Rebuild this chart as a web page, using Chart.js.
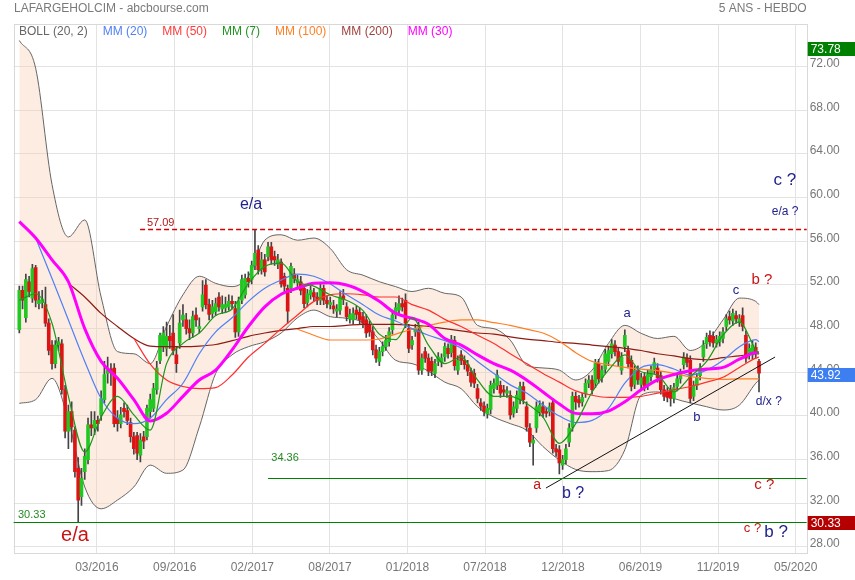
<!DOCTYPE html>
<html>
<head>
<meta charset="utf-8">
<script src="https://cdn.jsdelivr.net/npm/chart.js@4.4.1/dist/chart.umd.min.js"></script>
<style>
  html, body { margin: 0; padding: 0; background: #fff; }
  canvas { display: block; }
</style>
</head>
<body>
<canvas id="graphique" width="855" height="580"></canvas>
<script>
// bougies hebdo (ouverture, plus haut, plus bas, cloture)
const ouv = [
  47.9, 51.5, 49.0, 52.3, 50.8, 53.6, 50.3, 50.4, 50.2, 48.5,
  46.5, 44.8, 46.5, 46.6, 42.4, 38.6, 40.4, 38.7, 35.2, 32.6,
  34.9, 36.0, 39.2, 38.9, 39.6, 40.1, 41.5, 43.9, 44.3, 44.4,
  39.8, 39.3, 40.7, 40.5, 39.4, 38.1, 38.2, 36.4, 38.1, 38.1,
  40.4, 40.7, 42.4, 45.1, 46.35, 46.2, 47.3, 47.6, 45.6, 46.7,
  48.8, 48.8, 48.0, 47.6, 49.25, 48.0, 50.0, 52.0, 50.2, 49.4,
  49.55, 50.9, 49.8, 49.9, 50.0, 50.5, 49.85, 47.7, 50.6, 51.1,
  52.6, 52.5, 53.8, 55.2, 53.4, 54.3, 54.6, 55.5, 54.6, 53.9,
  54.1, 52.8, 51.7, 51.7, 53.0, 52.2, 52.3, 51.7, 50.4, 51.1,
  51.3, 50.9, 50.6, 51.7, 50.6, 50.2, 50.1, 49.6, 49.7, 51.0,
  50.0, 48.9, 48.8, 49.7, 49.5, 49.1, 48.8, 48.3, 47.7, 46.05,
  45.0, 45.9, 46.35, 46.8, 47.9, 49.25, 49.7, 50.3, 50.6, 48.0,
  46.5, 47.7, 47.9, 44.2, 45.9, 45.3, 45.0, 43.9, 45.0, 44.9,
  45.4, 46.2, 45.8, 46.9, 44.2, 45.6, 45.1, 44.7, 44.0, 43.9,
  42.5, 41.2, 40.9, 40.2, 40.6, 42.5, 42.8, 42.8, 42.4, 42.1,
  41.9, 40.25, 40.7, 41.5, 42.7, 40.85, 38.9, 37.5, 38.9, 40.4,
  40.85, 40.4, 40.4, 41.2, 37.0, 36.9, 35.5, 36.0, 37.6, 39.0,
  41.8, 41.5, 41.3, 42.1, 43.0, 43.3, 43.0, 44.8, 43.5, 44.3,
  45.0, 45.7, 46.5, 45.9, 44.2, 46.35, 46.0, 45.1, 42.9, 44.2,
  42.9, 43.6, 42.8, 43.6, 44.3, 44.4, 43.7, 42.4, 42.2, 42.4,
  41.6, 42.7, 43.4, 44.7, 45.3, 45.1, 41.8, 42.8, 43.7, 45.4,
  46.6, 47.4, 47.3, 46.7, 46.8, 47.1, 48.2, 49.1, 48.7, 49.2,
  48.6, 49.2, 47.4, 45.6, 45.6, 46.3, 45.0
];
const haut = [
  51.9, 51.9, 53.0, 52.8, 53.9, 53.8, 51.4, 51.5, 51.8, 48.9,
  46.9, 46.9, 47.2, 47.0, 42.8, 41.0, 41.3, 39.0, 36.2, 35.2,
  37.0, 39.8, 40.4, 40.4, 40.0, 42.3, 45.0, 45.4, 44.8, 44.8,
  40.5, 40.8, 41.2, 41.0, 39.8, 38.5, 38.5, 38.4, 38.6, 41.0,
  42.0, 43.0, 45.0, 47.6, 48.2, 48.6, 48.3, 49.3, 46.3, 49.7,
  50.2, 49.4, 48.8, 49.6, 49.9, 49.0, 52.4, 52.5, 50.7, 50.6,
  50.8, 51.3, 51.0, 50.9, 51.1, 51.0, 50.5, 50.9, 52.9, 53.0,
  53.2, 54.2, 57.09, 55.6, 55.0, 54.8, 55.9, 55.9, 55.1, 54.8,
  54.4, 53.1, 52.0, 54.0, 53.5, 52.9, 52.8, 52.0, 51.6, 51.9,
  51.7, 51.3, 52.1, 52.0, 51.0, 50.9, 50.6, 50.2, 51.4, 51.6,
  50.4, 49.8, 49.9, 50.1, 49.9, 49.5, 49.3, 48.7, 48.2, 46.5,
  46.3, 46.8, 47.4, 48.1, 49.7, 50.4, 51.0, 50.8, 51.2, 48.4,
  47.3, 48.4, 48.6, 45.7, 46.3, 45.7, 45.4, 45.2, 45.8, 45.7,
  46.7, 46.6, 47.4, 47.3, 45.5, 46.0, 45.5, 45.1, 44.4, 44.3,
  42.9, 41.6, 41.3, 41.1, 43.2, 43.4, 44.2, 43.2, 42.8, 42.7,
  42.3, 41.3, 42.3, 43.1, 43.1, 41.3, 39.3, 38.2, 41.3, 41.4,
  41.3, 40.8, 41.2, 41.6, 37.4, 37.3, 36.4, 37.4, 39.3, 42.2,
  42.2, 41.9, 42.1, 43.4, 43.7, 43.7, 45.2, 45.2, 44.6, 46.1,
  46.4, 47.0, 46.9, 46.3, 45.8, 47.9, 46.4, 45.5, 44.6, 44.6,
  43.9, 44.0, 44.2, 44.6, 45.3, 44.8, 44.1, 42.8, 42.6, 42.8,
  43.0, 43.8, 44.3, 45.8, 45.7, 45.5, 43.2, 43.9, 44.8, 46.9,
  47.6, 47.8, 47.7, 47.4, 47.7, 48.1, 49.3, 49.6, 49.8, 49.6,
  49.3, 49.9, 47.8, 46.6, 46.9, 46.7, 45.2
];
const bas = [
  47.6, 49.8, 48.6, 50.9, 50.4, 50.0, 49.8, 49.9, 48.2, 45.6,
  44.3, 44.4, 46.0, 42.0, 38.0, 37.0, 37.6, 34.4, 30.33, 31.8,
  34.2, 35.6, 38.2, 38.3, 38.6, 39.6, 41.2, 43.0, 42.8, 39.0,
  38.6, 38.9, 39.9, 39.2, 37.6, 36.5, 36.0, 35.8, 37.0, 37.8,
  39.8, 40.4, 42.0, 44.8, 45.9, 45.5, 46.2, 45.6, 44.0, 46.2,
  48.2, 47.5, 47.0, 47.2, 48.2, 47.6, 49.6, 49.8, 48.8, 49.0,
  49.2, 49.6, 49.4, 49.5, 49.7, 49.8, 47.2, 47.3, 50.3, 50.8,
  51.8, 52.1, 53.4, 53.0, 53.0, 52.8, 54.2, 53.9, 53.8, 53.5,
  51.8, 51.4, 48.5, 51.3, 52.2, 51.8, 51.1, 49.9, 50.0, 50.7,
  50.5, 50.2, 50.2, 50.2, 49.9, 49.8, 49.4, 49.1, 49.3, 50.2,
  48.7, 48.5, 48.4, 48.9, 48.4, 48.1, 47.2, 47.3, 45.6, 44.9,
  44.6, 45.5, 46.0, 46.4, 47.5, 48.9, 49.3, 49.6, 48.1, 45.8,
  46.1, 47.3, 43.8, 43.8, 44.9, 43.7, 43.7, 43.5, 44.6, 44.5,
  45.0, 45.3, 45.4, 44.2, 43.8, 44.7, 44.3, 43.7, 42.7, 42.6,
  41.2, 40.5, 40.0, 39.8, 40.2, 42.1, 42.4, 41.7, 41.8, 41.7,
  39.7, 39.9, 40.3, 41.1, 41.1, 38.6, 37.2, 35.5, 38.5, 40.0,
  39.9, 39.9, 40.0, 36.6, 36.3, 34.7, 35.1, 35.6, 37.2, 38.6,
  40.6, 40.8, 40.9, 41.7, 42.6, 42.0, 42.6, 43.0, 43.1, 43.9,
  44.6, 45.3, 45.5, 44.6, 43.8, 45.9, 44.4, 42.3, 42.5, 42.9,
  42.5, 42.3, 42.4, 43.2, 43.9, 43.1, 42.0, 41.4, 41.3, 40.9,
  41.2, 42.3, 43.0, 44.3, 44.5, 41.2, 41.4, 42.4, 43.3, 45.0,
  46.2, 46.4, 46.3, 46.3, 46.4, 46.7, 47.8, 48.4, 48.3, 48.5,
  48.2, 47.8, 44.9, 45.2, 45.2, 45.3, 42.2
];
const clot = [
  51.5, 50.6, 52.5, 51.4, 53.5, 50.6, 50.6, 50.7, 48.5, 46.0,
  44.8, 46.5, 46.8, 42.4, 38.6, 40.4, 39.0, 34.9, 32.3, 34.3,
  36.3, 39.2, 38.9, 39.6, 39.3, 41.6, 43.8, 44.2, 44.0, 39.3,
  39.3, 40.1, 40.4, 39.6, 38.1, 37.0, 36.6, 37.8, 37.7, 40.7,
  41.5, 42.5, 44.4, 47.4, 47.6, 47.3, 46.9, 46.0, 44.8, 48.5,
  49.25, 48.0, 47.6, 49.1, 48.8, 48.2, 51.1, 50.2, 49.3, 50.0,
  50.3, 50.0, 50.2, 50.2, 50.5, 50.3, 47.7, 50.5, 52.5, 52.6,
  52.3, 53.8, 54.9, 53.4, 54.3, 53.2, 55.5, 54.3, 54.3, 54.3,
  52.1, 51.9, 49.6, 53.7, 52.6, 52.5, 51.5, 50.3, 51.2, 51.5,
  50.9, 50.6, 51.7, 50.6, 50.3, 50.4, 49.8, 49.8, 50.9, 50.7,
  49.1, 49.3, 49.4, 49.3, 48.8, 48.5, 47.6, 47.7, 46.05, 45.3,
  45.9, 46.35, 46.96, 47.7, 49.25, 49.9, 50.3, 50.0, 48.5, 46.2,
  46.9, 48.0, 44.2, 45.3, 45.3, 44.1, 44.1, 44.8, 45.4, 45.3,
  46.35, 45.7, 47.0, 44.6, 45.1, 45.1, 44.7, 44.1, 43.1, 43.0,
  41.6, 40.9, 40.4, 40.7, 42.8, 43.0, 43.75, 42.1, 42.2, 42.3,
  40.1, 40.85, 41.9, 42.7, 41.5, 39.0, 37.6, 37.8, 40.85, 41.0,
  40.25, 40.25, 40.85, 37.0, 36.7, 35.7, 36.0, 37.0, 38.9, 41.8,
  41.3, 41.2, 41.7, 43.0, 43.3, 42.4, 44.8, 43.4, 44.2, 45.7,
  46.0, 46.6, 45.9, 45.0, 45.4, 47.4, 44.8, 42.7, 44.2, 43.3,
  43.5, 42.7, 43.8, 44.2, 44.9, 43.5, 42.4, 41.8, 41.7, 41.6,
  42.6, 43.4, 43.9, 45.4, 44.9, 41.6, 42.8, 43.5, 44.4, 46.5,
  47.2, 46.8, 46.7, 47.0, 47.3, 47.7, 48.9, 48.8, 49.4, 48.9,
  48.9, 48.2, 45.3, 46.2, 46.5, 45.7, 43.92
];

// indicateurs, releves toutes les 5 semaines
const semaines = [
  0, 5, 10, 15, 20, 25, 30, 35, 40, 45, 50, 55, 60, 65, 70, 75,
  80, 85, 90, 95, 100, 105, 110, 115, 120, 125, 130, 135, 140, 145,
  150, 155, 160, 165, 170, 175, 180, 185, 190, 195, 200, 205, 210,
  215, 220, 225, 226
];
const bollHaut = [
  74.4, 71.85, 61.2, 56.4, 57.96, 50.9, 45.9, 45.7, 44.8, 48.2,
  51.1, 52.8, 52.15, 51.85, 52.8, 56.1, 56.6, 56.1, 56.3, 55.35,
  53.4, 52.9, 52.3, 51.85, 51.4, 51.7, 51.24, 50.9, 48.3, 48.0,
  46.95, 44.67, 44.4, 44.2, 43.3, 44.2, 46.65, 48.3, 47.57, 47.1,
  47.3, 46.0, 46.8, 48.8, 50.8, 50.5, 50.2
];
const bollBas = [
  41.16, 41.5, 43.45, 39.6, 33.5, 31.5, 32.3, 33.5, 35.5, 34.75,
  35.05, 39.0, 43.9, 45.6, 46.35, 46.8, 47.6, 49.0, 49.7, 49.1,
  48.95, 48.55, 46.96, 45.1, 44.8, 44.1, 43.1, 42.5, 40.85, 39.9,
  39.3, 38.7, 37.2, 35.97, 35.1, 34.9, 35.0, 36.9, 41.9, 42.2,
  41.6, 41.2, 40.85, 40.55, 41.0, 43.0, 43.3
];
const mm7 = [
  50.6, 51.2, 48.5, 41.8, 36.7, 39.9, 41.8, 40.1, 38.7, 44.8,
  46.65, 47.6, 49.2, 49.8, 52.15, 53.7, 54.0, 52.3, 51.9, 51.1,
  50.6, 49.65, 47.5, 47.0, 49.0, 46.5, 44.8, 45.4, 43.3, 41.8,
  41.8, 41.15, 39.9, 37.5, 39.3, 42.2, 44.2, 45.6, 44.05, 43.75,
  42.2, 43.6, 45.0, 47.4, 48.6, 46.05, 45.7
];
const mm20 = [
  null, 56.3, 52.6, 48.8, 45.0, 41.6, 39.8, 39.3, 39.8, 41.5,
  43.0, 45.7, 47.7, 49.0, 50.5, 51.7, 52.45, 53.0, 52.8, 52.1,
  51.1, 50.2, 49.25, 48.7, 48.0, 47.4, 46.9, 46.2, 45.0, 43.9,
  42.85, 42.1, 41.0, 40.0, 39.4, 39.6, 40.7, 43.0, 44.45, 44.7,
  44.3, 43.75, 44.2, 45.1, 46.35, 47.0, 46.8
];
const mm30 = [
  57.8, 56.3, 54.3, 52.3, 48.0, 45.0, 43.45, 41.5, 39.55, 40.25,
  41.8, 43.3, 44.2, 46.05, 48.2, 50.0, 51.15, 51.7, 52.15, 52.2,
  52.0, 51.4, 50.5, 49.4, 48.95, 48.4, 47.1, 46.5, 45.6, 44.8,
  44.2, 43.3, 42.2, 41.1, 40.24, 40.2, 40.45, 41.3, 42.4, 43.3,
  43.8, 44.15, 44.3, 44.45, 45.2, 45.8, 45.8
];
const mm50 = [
  null, null, null, null, null, null, null, 47.1, 44.75, 43.3,
  42.7, 42.5, 42.6, 43.75, 45.4, 46.65, 48.0, 49.25, 50.5, 51.1,
  51.2, 51.1, 50.9, 50.9, 50.2, 49.7, 48.85, 48.2, 47.4, 46.65,
  45.7, 44.8, 43.9, 43.1, 42.3, 41.9, 41.7, 41.7, 41.8, 42.1,
  42.4, 42.7, 43.1, 43.55, 44.45, 45.3, 45.4
];
const mm100 = [
  null, null, null, null, null, null, null, null, null, null,
  null, null, null, null, null, null, null, 47.95, 47.4, 46.96,
  46.96, 46.96, 47.05, 47.5, 47.95, 48.3, 48.6, 48.8, 48.8, 48.55,
  48.3, 47.95, 47.6, 46.85, 45.8, 45.0, 44.7, 44.45, 44.3, 44.15,
  43.9, 43.6, 43.45, 43.35, 43.4, 43.4, 43.4
];
const mm200 = [
  null, null, null, 52.15, 50.9, 49.4, 48.2, 47.1, 46.4, 46.35,
  46.35, 46.4, 46.55, 46.9, 47.3, 47.6, 47.85, 48.0, 48.2, 48.2,
  48.3, 48.4, 48.4, 48.4, 48.3, 48.2, 48.0, 47.8, 47.6, 47.5,
  47.25, 47.05, 46.9, 46.75, 46.65, 46.5, 46.35, 46.2, 46.0, 45.7,
  45.5, 45.25, 45.15, 45.35, 45.5, 45.7, 45.7
];

// axes
const moisLabels = ["03/2016", "09/2016", "02/2017", "08/2017", "01/2018", "07/2018", "12/2018", "06/2019", "11/2019", "05/2020"];
const moisPos = [23.7, 47.5, 71.2, 94.9, 118.6, 142.3, 166.1, 189.8, 213.5, 237.2];
const yTicks = [28, 32, 36, 40, 44, 48, 52, 56, 60, 64, 68, 72];

// niveaux traces et etiquettes de prix
const niveaux = [57.09, 34.36, 30.33];
const niveauxDebut = [36.9, 76.0, -1.74];
const prixEtiquettes = [73.78, 43.92, 30.33];
const tendance = [{ x: 160.9, y: 33.4 }, { x: 230.9, y: 45.4 }];

const xMin = -1.74, xMax = 240.57;
const police = '"Liberation Sans", Arial, sans-serif';
const marine = "#23238c";
const rouge = "#c81414";

const legende = [
  { t: "BOLL (20, 2)", c: "#666666" },
  { t: "MM (20)", c: "#4f80f5" },
  { t: "MM (50)", c: "#ff3c3c" },
  { t: "MM (7)", c: "#1e961e" },
  { t: "MM (100)", c: "#ff7f24" },
  { t: "MM (200)", c: "#a0403c" },
  { t: "MM (30)", c: "#ff00ff" }
];

const notes = [
  { t: "57.09", x: 39.0, y: 57.65, c: "#b01818", s: 11, a: "left" },
  { t: "34.36", x: 77.0, y: 36.2, c: "#228b22", s: 11, a: "left" },
  { t: "30.33", x: -0.4, y: 30.9, c: "#228b22", s: 11, a: "left" },
  { t: "e/a", x: 70.8, y: 59.35, c: marine, s: 16 },
  { t: "e/a", x: 17.0, y: 29.1, c: rouge, s: 20 },
  { t: "a", x: 158.2, y: 33.7, c: rouge, s: 14 },
  { t: "b ?", x: 169.2, y: 32.85, c: marine, s: 16 },
  { t: "a", x: 185.7, y: 49.4, c: marine, s: 13 },
  { t: "b", x: 207.0, y: 39.9, c: marine, s: 13 },
  { t: "c", x: 219.0, y: 51.5, c: marine, s: 13 },
  { t: "b ?", x: 226.9, y: 52.45, c: rouge, s: 15 },
  { t: "c ?", x: 233.9, y: 61.6, c: marine, s: 17 },
  { t: "e/a ?", x: 234.0, y: 58.7, c: marine, s: 12 },
  { t: "d/x ?", x: 229.0, y: 41.3, c: marine, s: 12 },
  { t: "c ?", x: 227.6, y: 33.7, c: rouge, s: 15 },
  { t: "c ?", x: 224.0, y: 29.7, c: rouge, s: 13 },
  { t: "b ?", x: 231.2, y: 29.3, c: marine, s: 17 }
];

const pts = vals => semaines.map((s, k) => ({ x: s, y: vals[k] })).filter(p => p.y !== null);

function ligneMM(label, vals, couleur, epaisseur, ordre) {
  return {
    type: "line",
    label: label,
    data: pts(vals),
    borderColor: couleur,
    borderWidth: epaisseur,
    pointRadius: 0,
    fill: false,
    cubicInterpolationMode: "monotone",
    order: ordre
  };
}

const habillage = {
  id: "habillage",
  beforeDraw(chart) {
    const ctx = chart.ctx;
    ctx.save();
    ctx.fillStyle = "#ffffff";
    ctx.fillRect(0, 0, chart.width, chart.height);
    ctx.restore();
  },
  beforeDatasetsDraw(chart) {
    const { ctx, chartArea: a } = chart;
    ctx.save();
    ctx.strokeStyle = "#d9d9d9";
    ctx.lineWidth = 1;
    ctx.strokeRect(Math.round(a.left) + 0.5, Math.round(a.top) + 0.5,
      Math.round(a.right - a.left), Math.round(a.bottom - a.top));
    ctx.restore();
  },
  afterDatasetsDraw(chart) {
    // lignes de niveau (57.09 en pointilles, supports verts)
    const { ctx, chartArea: a, scales: { x, y } } = chart;
    const styles = [
      { c: "#d40000", d: [5, 3], w: 1.4 },
      { c: "#008000", d: [], w: 1 },
      { c: "#008000", d: [], w: 1 }
    ];
    ctx.save();
    niveaux.forEach((v, k) => {
      const py = Math.round(y.getPixelForValue(v)) + 0.5;
      ctx.strokeStyle = styles[k].c;
      ctx.setLineDash(styles[k].d);
      ctx.lineWidth = styles[k].w;
      ctx.beginPath();
      ctx.moveTo(Math.max(a.left, x.getPixelForValue(niveauxDebut[k])), py);
      ctx.lineTo(a.right, py);
      ctx.stroke();
    });
    ctx.restore();
  },
  afterDraw(chart) {
    const { ctx, chartArea: a, scales: { x, y } } = chart;
    ctx.save();
    ctx.textBaseline = "middle";

    ctx.font = "12px " + police;
    ctx.fillStyle = "#7a7a7a";
    ctx.textAlign = "left";
    ctx.fillText("LAFARGEHOLCIM - abcbourse.com", 14, 9);
    ctx.textAlign = "right";
    ctx.fillText("5 ANS - HEBDO", a.right, 9);

    ctx.textAlign = "left";
    let lx = 19;
    legende.forEach(l => {
      ctx.fillStyle = l.c;
      ctx.fillText(l.t, lx, 32);
      lx += ctx.measureText(l.t).width + 15;
    });

    notes.forEach(n => {
      ctx.font = n.s + "px " + police;
      ctx.fillStyle = n.c;
      ctx.textAlign = n.a || "center";
      ctx.fillText(n.t, x.getPixelForValue(n.x), y.getPixelForValue(n.y));
    });

    const fonds = ["#008000", "#3d7ef0", "#b40000"];
    prixEtiquettes.forEach((v, k) => {
      const py = y.getPixelForValue(v) + 1.5;
      ctx.fillStyle = fonds[k];
      ctx.fillRect(a.right + 1, Math.round(py - 7), chart.width - a.right, 14);
      ctx.fillStyle = "#ffffff";
      ctx.font = "12px " + police;
      ctx.textAlign = "left";
      ctx.fillText(v.toFixed(2), a.right + 4, py + 0.5);
    });
    ctx.restore();
  }
};

new Chart(document.getElementById("graphique"), {
  type: "bar",
  data: {
    datasets: [
      {
        type: "line",
        label: "bollHaut",
        data: pts(bollHaut),
        borderColor: "#666666",
        borderWidth: 1,
        pointRadius: 0,
        fill: "+1",
        backgroundColor: "rgba(248, 200, 170, 0.35)",
        cubicInterpolationMode: "monotone",
        order: 20
      },
      {
        type: "line",
        label: "bollBas",
        data: pts(bollBas),
        borderColor: "#666666",
        borderWidth: 1,
        pointRadius: 0,
        fill: false,
        cubicInterpolationMode: "monotone",
        order: 19
      },
      {
        label: "meches",
        data: clot.map((c, i) => ({ x: i, y: [bas[i], haut[i]] })),
        backgroundColor: "#444444",
        barThickness: 1,
        grouped: false,
        order: 12
      },
      {
        label: "corps",
        data: clot.map((c, i) => ({ x: i, y: [ouv[i], c] })),
        backgroundColor: clot.map((c, i) => c >= ouv[i] ? "#22c822" : "#dc1414"),
        barThickness: 3,
        minBarLength: 1,
        grouped: false,
        order: 11
      },
      ligneMM("mm200", mm200, "#8e1c14", 1.2, 8),
      ligneMM("mm100", mm100, "#ff7f24", 1.2, 7),
      ligneMM("mm50", mm50, "#ff3030", 1.2, 6),
      ligneMM("mm20", mm20, "#4f80f5", 1.2, 5),
      ligneMM("mm30", mm30, "#ff00ff", 3, 4),
      ligneMM("mm7", mm7, "#1e961e", 1.2, 3),
      {
        type: "line",
        label: "tendance",
        data: tendance,
        borderColor: "#111111",
        borderWidth: 1,
        pointRadius: 0,
        fill: false,
        order: 0
      }
    ]
  },
  options: {
    responsive: false,
    animation: false,
    devicePixelRatio: 1,
    events: [],
    layout: { padding: { left: 13.6, top: 24.3, right: 0, bottom: 0 } },
    plugins: {
      legend: { display: false },
      tooltip: { enabled: false },
      title: { display: false }
    },
    scales: {
      x: {
        type: "linear",
        min: xMin,
        max: xMax,
        offset: false,
        grid: { color: "#e3e3e3", offset: false, drawTicks: false },
        border: { display: false },
        afterBuildTicks: s => { s.ticks = moisPos.map(v => ({ value: v })); },
        afterFit: s => { s.height = 27; },
        ticks: {
          autoSkip: false,
          maxRotation: 0,
          padding: 7,
          color: "#777777",
          font: { size: 12, family: police },
          callback: (v, i) => moisLabels[i]
        }
      },
      y: {
        position: "right",
        min: 27.45,
        max: 75.88,
        grid: { color: "#e3e3e3", drawTicks: false },
        border: { display: false },
        afterBuildTicks: s => { s.ticks = yTicks.map(v => ({ value: v })); },
        afterFit: s => { s.width = 48.3; },
        ticks: {
          padding: 3,
          color: "#777777",
          labelOffset: -3,
          font: { size: 12, family: police },
          callback: v => v.toFixed(2)
        }
      }
    }
  },
  plugins: [habillage]
});
</script>
</body>
</html>
